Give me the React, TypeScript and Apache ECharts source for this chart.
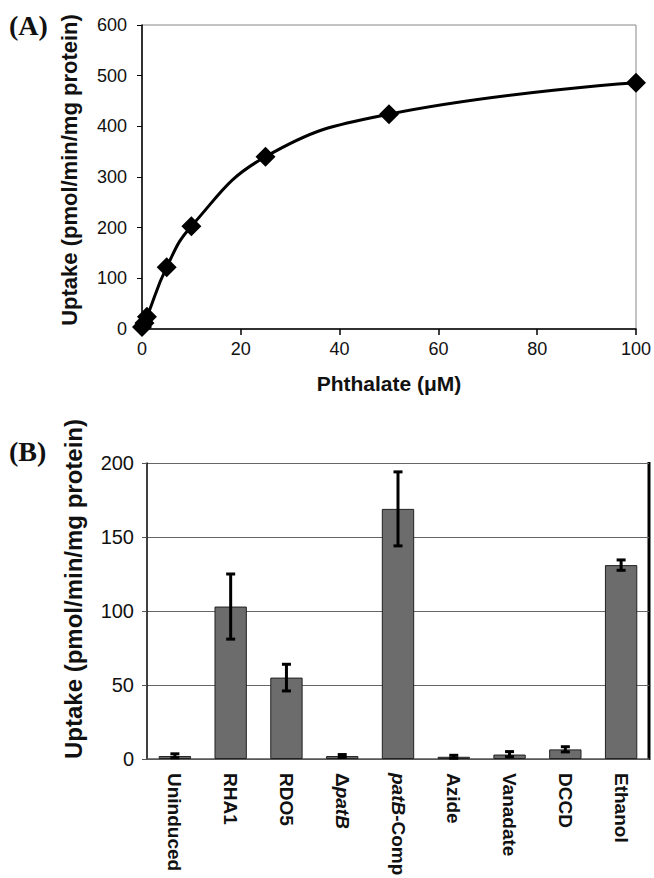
import React, { useEffect, useRef } from "react";
import * as echarts from "echarts";

// Panel A: phthalate uptake kinetics
const phthalateConc = [0, 0.5, 1, 5, 10, 25, 50, 100];
const uptakeA = [4, 12, 24, 122, 203, 340, 424, 486];

// Panel B: uptake by strain / condition
const categoriesB = ["Uninduced", "RHA1", "RDO5", "ΔpatB", "patB-Comp", "Azide", "Vanadate", "DCCD", "Ethanol"];
const uptakeB = [2, 103, 55, 2, 169, 1.5, 3, 6.5, 131];
const errLowB = [0.8, 81, 46, 1, 144, 0.5, 1.5, 4.8, 127.5];
const errHighB = [3.5, 125, 64, 3, 194, 2.5, 5, 8.3, 134.5];

const FONT = "Arial, 'Liberation Sans', Helvetica, sans-serif";
const SERIF = "'Times New Roman', 'Liberation Serif', serif";

export default function App() {
  const ref = useRef<HTMLDivElement>(null);
  useEffect(() => {
    document.body.style.margin = "0";
    if (!ref.current) return;
    const chart = echarts.init(ref.current, null, { renderer: "svg" });
    const option: any = {
      animation: false,
      backgroundColor: "#ffffff",
      grid: [
        { left: 142, top: 25, width: 494, height: 304, show: true, borderColor: "#888", borderWidth: 1, backgroundColor: "transparent", containLabel: false, outerBoundsMode: "none" },
        { left: 147, top: 463, width: 502, height: 296, containLabel: false, outerBoundsMode: "none" },
      ],
      xAxis: [
        {
          type: "value",
          gridIndex: 0,
          min: 0,
          max: 100,
          interval: 20,
          axisLine: { show: true, onZero: false, lineStyle: { color: "#000", width: 1.5 } },
          axisTick: { show: true, inside: false, length: 6, lineStyle: { color: "#000", width: 1.5 } },
          axisLabel: { color: "#111", fontSize: 18, fontFamily: FONT, margin: 11 },
          splitLine: { show: false },
          name: "Phthalate (μM)",
          nameLocation: "middle",
          nameGap: 44,
          nameTextStyle: { color: "#111", fontSize: 21, fontWeight: "bold", fontFamily: FONT },
        },
        {
          type: "category",
          gridIndex: 1,
          data: categoriesB,
          axisLine: { show: true, lineStyle: { color: "#555", width: 1.5 } },
          axisTick: { show: false },
          axisLabel: {
            rotate: -90,
            interval: 0,
            color: "#111",
            fontSize: 19,
            fontWeight: "bold",
            fontFamily: FONT,
            margin: 14,
            formatter: (v: string) =>
              v === "ΔpatB" ? "Δ{i|patB}" : v === "patB-Comp" ? "{i|patB}-Comp" : v,
            rich: {
              i: { fontStyle: "italic", fontWeight: "bold", fontSize: 19, fontFamily: FONT, color: "#111" },
            },
          },
        },
      ],
      yAxis: [
        {
          type: "value",
          gridIndex: 0,
          min: 0,
          max: 600,
          interval: 100,
          axisLine: { show: true, lineStyle: { color: "#000", width: 1.5 } },
          axisTick: { show: true, inside: false, length: 5, lineStyle: { color: "#000" } },
          axisLabel: { color: "#111", fontSize: 18, fontFamily: FONT, margin: 15 },
          splitLine: { show: false },
        },
        {
          type: "value",
          gridIndex: 1,
          min: 0,
          max: 200,
          interval: 50,
          axisLine: { show: true, lineStyle: { color: "#000", width: 1.5 } },
          axisTick: { show: true, inside: false, length: 5, lineStyle: { color: "#555" } },
          axisLabel: { color: "#111", fontSize: 20, fontFamily: FONT, margin: 13 },
          splitLine: { show: true, lineStyle: { color: "#666", width: 1.2 } },
        },
      ],
      series: [
        {
          type: "line",
          xAxisIndex: 0,
          yAxisIndex: 0,
          data: phthalateConc.map((x, i) => [x, uptakeA[i]]),
          smooth: 0.45,
          symbol: "diamond",
          symbolSize: 20,
          itemStyle: { color: "#000" },
          lineStyle: { color: "#000", width: 3 },
          clip: false,
          z: 3,
        },
        {
          type: "bar",
          xAxisIndex: 1,
          yAxisIndex: 1,
          data: uptakeB,
          barWidth: "58%",
          itemStyle: { color: "#6c6c6c", borderColor: "#222", borderWidth: 1 },
          z: 3,
        },
        {
          type: "custom",
          xAxisIndex: 1,
          yAxisIndex: 1,
          data: categoriesB.map((_, i) => [i, errLowB[i], errHighB[i]]),
          encode: { x: 0, y: [1, 2] },
          z: 4,
          renderItem: (params: any, api: any) => {
            const idx = api.value(0);
            const lo = api.coord([idx, api.value(1)]);
            const hi = api.coord([idx, api.value(2)]);
            const hw = 4.5;
            const style = { stroke: "#000", lineWidth: 3 };
            return {
              type: "group",
              children: [
                { type: "line", shape: { x1: lo[0], y1: lo[1], x2: hi[0], y2: hi[1] }, style },
                { type: "line", shape: { x1: hi[0] - hw, y1: hi[1], x2: hi[0] + hw, y2: hi[1] }, style },
                { type: "line", shape: { x1: lo[0] - hw, y1: lo[1], x2: lo[0] + hw, y2: lo[1] }, style },
              ],
            };
          },
        },
      ],
      graphic: [
        {
          type: "text",
          left: 9,
          top: 11,
          style: { text: "(A)", font: `bold 28px ${SERIF}`, fill: "#111" },
        },
        {
          type: "text",
          left: 9,
          top: 437,
          style: { text: "(B)", font: `bold 28px ${SERIF}`, fill: "#111" },
        },
        {
          type: "text",
          x: 69,
          y: 170,
          rotation: Math.PI / 2,
          style: {
            text: "Uptake (pmol/min/mg protein)",
            font: `bold 22px ${FONT}`,
            fill: "#111",
            align: "center",
            verticalAlign: "middle",
          },
        },
        {
          type: "text",
          x: 73,
          y: 589,
          rotation: Math.PI / 2,
          style: {
            text: "Uptake (pmol/min/mg protein)",
            font: `bold 24px ${FONT}`,
            fill: "#111",
            align: "center",
            verticalAlign: "middle",
          },
        },
        {
          type: "line",
          shape: { x1: 649, y1: 462, x2: 649, y2: 760 },
          style: { stroke: "#000", lineWidth: 3 },
        },
      ],
    };
    chart.setOption(option);
    return () => chart.dispose();
  }, []);
  return <div ref={ref} style={{ width: 654, height: 878 }} />;
}
